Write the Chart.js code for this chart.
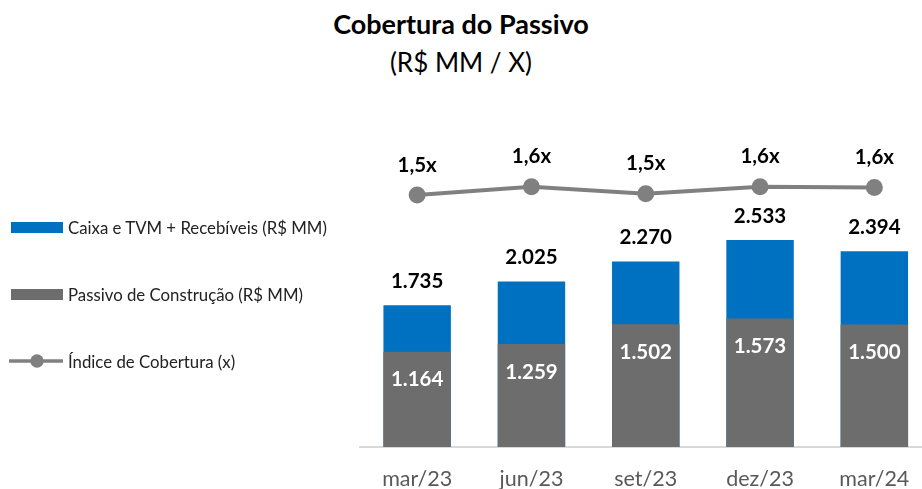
<!DOCTYPE html>
<html>
<head>
<meta charset="utf-8">
<script src="https://cdn.jsdelivr.net/npm/chart.js@4.4.1/dist/chart.umd.min.js"></script>
<style>
  body { margin: 0; background: #fff; font-family: Lato, sans-serif; }
  #wrap { position: relative; width: 922px; height: 489px; overflow: hidden; }
  #title { position: absolute; left: 0; width: 922px; top: 10px; line-height: 27px; text-align: center; font-size: 27px; font-weight: bold; color: #000; }
  #subtitle { position: absolute; left: 0; width: 922px; top: 49px; line-height: 26px; text-align: center; font-size: 26px; color: #000; }
  #myChart { position: absolute; left: 0; top: 0; }
  .leg { position: absolute; left: 9px; height: 20px; display: flex; align-items: center; font-size: 16.8px; color: #222; white-space: nowrap; }
  .sw { width: 52px; height: 11px; margin-left: 2px; margin-right: 5px; }
</style>
</head>
<body>
<div id="wrap">
  <div id="title">Cobertura do Passivo</div>
  <div id="subtitle">(R$ MM / X)</div>
  <canvas id="myChart" width="940" height="489"></canvas>
  <div id="legend"></div>
</div>
<script>
const labels = ['mar/23', 'jun/23', 'set/23', 'dez/23', 'mar/24'];
const caixa = [1735, 2025, 2270, 2533, 2394];
const passivo = [1164, 1259, 1502, 1573, 1500];
const indice = [1.49, 1.61, 1.51, 1.61, 1.60];

const blue = '#0070c0';
const gray = '#6d6d6d';
const lineGray = '#808080';

// 1735 -> "1.735"
function milhar(v) {
  return String(v).replace(/\B(?=(\d{3})+(?!\d))/g, '.');
}

// rotulos de valor em cima das barras / pontos
const valueLabels = {
  id: 'valueLabels',
  afterDatasetsDraw(chart) {
    const ctx = chart.ctx;
    ctx.save();
    ctx.textAlign = 'center';
    ctx.textBaseline = 'middle';
    ctx.font = 'bold 20.5px Lato';
    chart.data.datasets.forEach((ds, i) => {
      const meta = chart.getDatasetMeta(i);
      meta.data.forEach((el, j) => {
        const v = ds.data[j];
        let txt;
        if (ds.type === 'line') {
          txt = v.toFixed(1).replace('.', ',') + 'x';
        } else {
          txt = milhar(v);
        }
        ctx.fillStyle = ds.labelColor;
        ctx.fillText(txt, el.x, el.y + ds.labelOffset);
      });
    });
    ctx.restore();
  }
};

const ctx = document.getElementById('myChart');
const chart = new Chart(ctx, {
  data: {
    labels: labels,
    datasets: [
      {
        type: 'line',
        label: 'Índice de Cobertura (x)',
        data: indice,
        yAxisID: 'y1',
        borderColor: lineGray,
        backgroundColor: lineGray,
        borderWidth: 4,
        pointRadius: 8.5,
        pointBackgroundColor: lineGray,
        pointBorderWidth: 0,
        order: 0,
        labelColor: '#000',
        labelOffset: -30
      },
      {
        type: 'bar',
        label: 'Passivo de Construção (R$ MM)',
        data: passivo,
        backgroundColor: gray,
        grouped: false,
        barPercentage: 0.59,
        categoryPercentage: 1,
        order: 1,
        labelColor: '#fff',
        labelOffset: 28
      },
      {
        type: 'bar',
        label: 'Caixa e TVM + Recebíveis (R$ MM)',
        data: caixa,
        backgroundColor: blue,
        grouped: false,
        barPercentage: 0.59,
        categoryPercentage: 1,
        order: 2,
        labelColor: '#000',
        labelOffset: -24
      }
    ]
  },
  options: {
    responsive: false,
    animation: false,
    layout: { padding: { left: 360, right: 5, top: 100, bottom: 0 } },
    plugins: {
      legend: { display: false },
      tooltip: { enabled: false }
    },
    scales: {
      x: {
        grid: { display: false, drawTicks: false },
        border: { display: true, color: '#d9d9d9', width: 2 },
        ticks: { color: '#595959', font: { family: 'Lato', size: 21.5 }, padding: 19 },
        afterFit(scale) { scale.height = 42; }
      },
      y: { display: false, min: 0, max: 4245 },
      y1: { display: false, min: -2.133, max: 2.857 }
    }
  },
  plugins: [valueLabels]
});

// legenda a esquerda
const legend = document.getElementById('legend');
const legendTops = [217, 284, 351];
[2, 1, 0].forEach((idx, k) => {
  const ds = chart.data.datasets[idx];
  const row = document.createElement('div');
  row.className = 'leg';
  row.style.top = legendTops[k] + 'px';
  if (ds.type === 'line') {
    row.innerHTML = '<svg width="54" height="20" style="margin-right:5px"><line x1="0" y1="10" x2="54" y2="10" stroke="' + ds.borderColor + '" stroke-width="3.5"/><circle cx="28" cy="10" r="6.7" fill="' + ds.borderColor + '"/></svg>';
  } else {
    row.innerHTML = '<div class="sw" style="background:' + ds.backgroundColor + '"></div>';
  }
  const t = document.createElement('span');
  t.textContent = ds.label;
  row.appendChild(t);
  legend.appendChild(row);
});
</script>
</body>
</html>
